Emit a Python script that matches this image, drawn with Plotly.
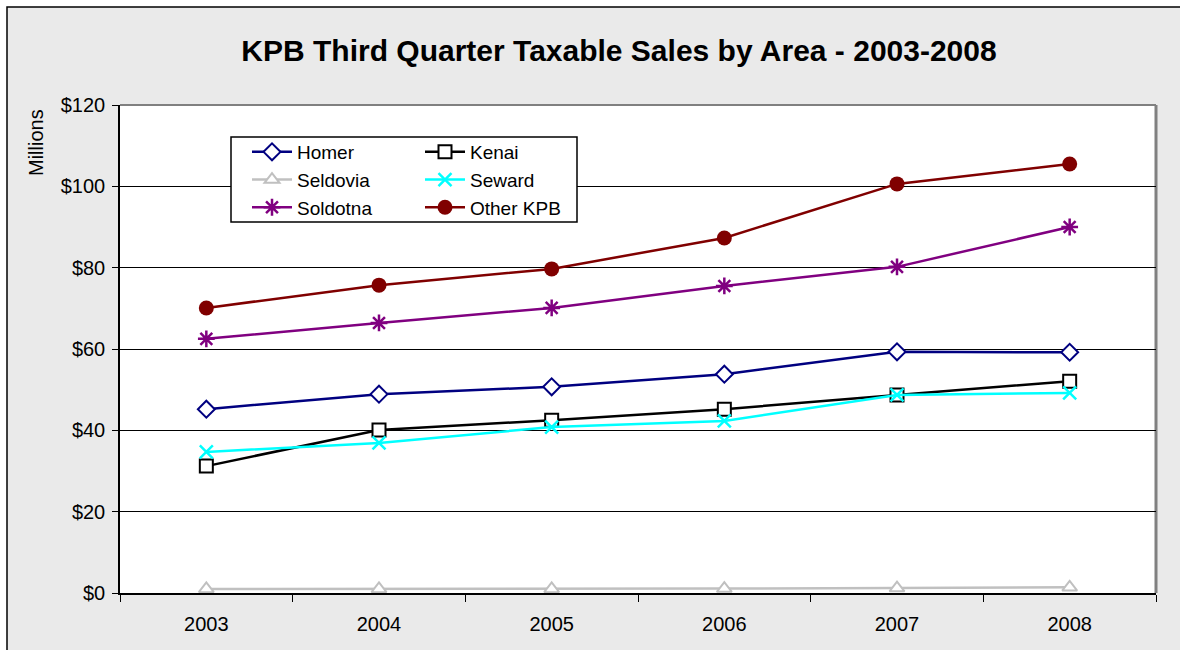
import plotly.graph_objects as go

years = ["2003", "2004", "2005", "2006", "2007", "2008"]
homer = [45.2, 48.9, 50.7, 53.8, 59.3, 59.2]
kenai = [31.2, 40.1, 42.5, 45.2, 48.7, 52.1]
seldovia = [1.0, 1.0, 1.0, 1.1, 1.2, 1.4]
seward = [34.7, 36.9, 40.8, 42.3, 48.7, 49.2]
soldotna = [62.5, 66.4, 70.1, 75.5, 80.2, 90.0]
other_kpb = [70.1, 75.7, 79.7, 87.3, 100.6, 105.5]
y_ticks = [0, 20, 40, 60, 80, 100, 120]
y_tick_labels = ["$0", "$20", "$40", "$60", "$80", "$100", "$120"]

FONT = "Liberation Sans, Arial, sans-serif"

series = [
    ("Homer", homer, "#000080", dict(symbol="diamond", size=13, color="white", line=dict(color="#000080", width=2)), "legend"),
    ("Kenai", kenai, "#000000", dict(symbol="square", size=13, color="white", line=dict(color="#000000", width=2)), "legend2"),
    ("Seldovia", seldovia, "#C0C0C0", dict(symbol="triangle-up", size=13, color="white", line=dict(color="#C0C0C0", width=2)), "legend"),
    ("Seward", seward, "#00FFFF", dict(symbol="x-thin-open", size=13, color="#00FFFF", line=dict(color="#00FFFF", width=2.5)), "legend2"),
    ("Soldotna", soldotna, "#800080", dict(symbol="asterisk-open", size=14, color="#800080", line=dict(color="#800080", width=2.5)), "legend"),
    ("Other KPB", other_kpb, "#800000", dict(symbol="circle", size=15, color="#800000", line=dict(color="#800000", width=0)), "legend2"),
]

fig = go.Figure()
for name, vals, col, mk, lg in series:
    fig.add_trace(go.Scatter(
        x=years, y=vals, name=name, mode="lines+markers",
        line=dict(color=col, width=2.5), marker=mk, legend=lg,
        legendgroup=name,
    ))

FW, FH = 1180, 650
# plot area in page px: left 120, right 1156, top 105, bottom 593
L, R, T, B = 120, 1156, 105, 593
W, H = R - L, B - T
def px(x):  # page x -> paper
    return (x - L) / W
def py(y):  # page y -> paper
    return (B - y) / H

legend_common = dict(
    bgcolor="rgba(0,0,0,0)", borderwidth=0,
    font=dict(family=FONT, size=19, color="black"),
    orientation="v", tracegroupgap=0, yanchor="top", xanchor="left",
    itemwidth=40,
)

fig.update_layout(
    width=FW, height=FH,
    paper_bgcolor="#EAEAEA", plot_bgcolor="white",
    margin=dict(l=L, r=FW - R, t=T, b=FH - B),
    font=dict(family=FONT, size=19, color="black"),
    title=dict(text="<b>KPB Third Quarter Taxable Sales by Area - 2003-2008</b>",
               x=619 / FW, xanchor="center", y=1 - 50 / FH, yanchor="middle",
               font=dict(family=FONT, size=30, color="black")),
    showlegend=True,
    legend=dict(x=px(247), y=py(133), **legend_common),
    legend2=dict(x=px(420), y=py(133), **legend_common),
    xaxis=dict(type="category", range=[-0.5, 5.5], tickson="boundaries",
               ticks="outside", ticklen=7, tickcolor="black", showline=True,
               linecolor="black", linewidth=1.5, showgrid=False,
               ticklabelstandoff=12,
               tickfont=dict(family=FONT, size=20, color="black")),
    yaxis=dict(range=[0, 120], tickvals=y_ticks, ticktext=y_tick_labels,
               ticks="outside", ticklen=6, tickcolor="black", showline=True,
               linecolor="black", linewidth=1.5, showgrid=True,
               gridcolor="black", gridwidth=1, zeroline=False,
               ticklabelstandoff=3,
               tickfont=dict(family=FONT, size=20, color="black")),
    shapes=[
        # white area outside chart border
        dict(type="rect", xref="paper", yref="paper", x0=px(-50), x1=px(1300), y0=py(7), y1=py(-50),
             fillcolor="white", line=dict(width=0), layer="below"),
        dict(type="rect", xref="paper", yref="paper", x0=px(-50), x1=px(7), y0=py(700), y1=py(-50),
             fillcolor="white", line=dict(width=0), layer="below"),
        # chart border
        dict(type="rect", xref="paper", yref="paper", x0=px(7), x1=px(1300), y0=py(700), y1=py(7),
             fillcolor="rgba(0,0,0,0)", line=dict(color="black", width=1.5), layer="below"),
        # plot area gray border (top / right)
        dict(type="line", xref="paper", yref="paper", x0=0, x1=1, y0=1, y1=1,
             line=dict(color="#808080", width=2), layer="below"),
        dict(type="line", xref="paper", yref="paper", x0=1, x1=1, y0=0, y1=1,
             line=dict(color="#808080", width=3), layer="below"),
        # legend box
        dict(type="rect", xref="paper", yref="paper", x0=px(231), x1=px(577), y0=py(222), y1=py(137),
             fillcolor="white", line=dict(color="black", width=1.5), layer="above"),
    ],
    annotations=[
        dict(text="Millions", xref="paper", yref="paper", x=px(36), y=py(143),
             xanchor="center", yanchor="middle", textangle=-90, showarrow=False,
             font=dict(family=FONT, size=20, color="black")),
    ],
)

fig.write_html("out.html", config={"displayModeBar": False},
               post_script="document.body.style.margin='0';document.body.style.overflow='hidden';")
